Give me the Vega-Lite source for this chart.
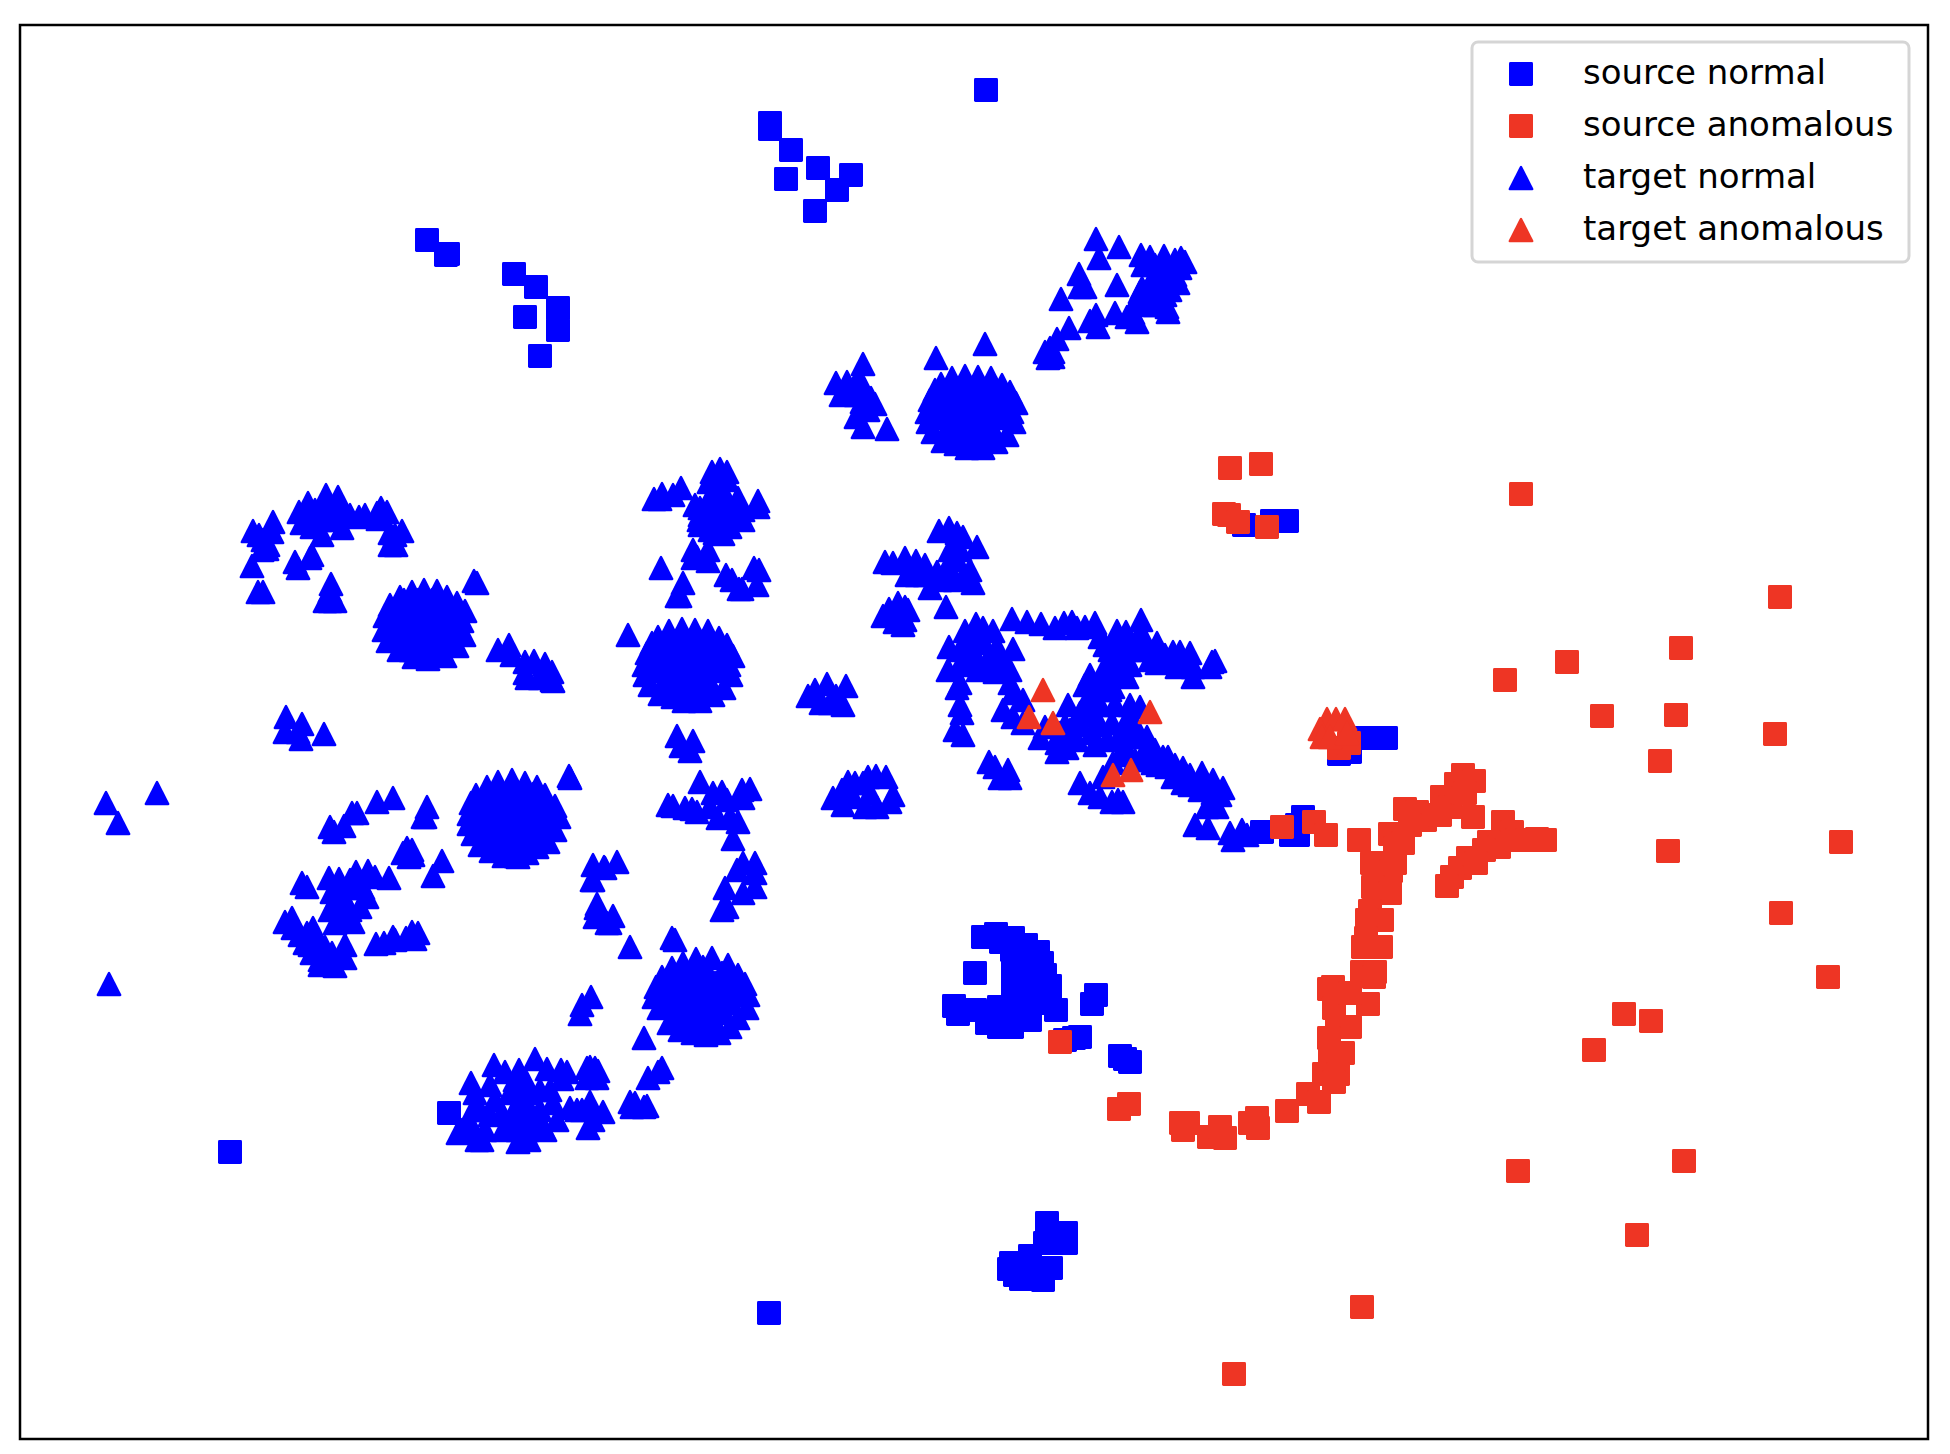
{"$schema":"https://vega.github.io/schema/vega-lite/v6.json","width":1908,"height":1414,"autosize":{"type":"none"},"padding":{"left":20,"top":25,"right":22,"bottom":15},"background":"white",
"config":{"view":{"stroke":"black","strokeWidth":2.5},"font":"DejaVu Sans","legend":{"strokeWidth":3}},
"data":{"values":[
{"x":986,"y":90,"s":"SN"},{"x":770,"y":123,"s":"SN"},{"x":770,"y":129,"s":"SN"},{"x":791,"y":150,"s":"SN"},{"x":818,"y":168,"s":"SN"},{"x":851,"y":175,"s":"SN"},{"x":786,"y":179,"s":"SN"},{"x":837,"y":190,"s":"SN"},{"x":815,"y":211,"s":"SN"},{"x":427,"y":240,"s":"SN"},{"x":448,"y":254,"s":"SN"},{"x":446,"y":255,"s":"SN"},{"x":514,"y":274,"s":"SN"},{"x":536,"y":287,"s":"SN"},{"x":558,"y":308,"s":"SN"},{"x":525,"y":317,"s":"SN"},{"x":558,"y":330,"s":"SN"},{"x":540,"y":356,"s":"SN"},
{"x":1244,"y":525,"s":"SN"},{"x":1272,"y":521,"s":"SN"},{"x":1284,"y":521,"s":"SN"},{"x":1287,"y":521,"s":"SN"},
{"x":1386,"y":738,"s":"SN"},{"x":1370,"y":738,"s":"SN"},{"x":1360,"y":738,"s":"SN"},{"x":1339,"y":754,"s":"SN"},{"x":1350,"y":752,"s":"SN"},
{"x":1262,"y":832,"s":"SN"},{"x":1303,"y":817,"s":"SN"},{"x":1297,"y":825,"s":"SN"},{"x":1291,"y":835,"s":"SN"},{"x":1298,"y":835,"s":"SN"},
{"x":983,"y":937,"s":"SN"},{"x":996,"y":934,"s":"SN"},{"x":1013,"y":938,"s":"SN"},{"x":1026,"y":945,"s":"SN"},{"x":1038,"y":952,"s":"SN"},{"x":1042,"y":963,"s":"SN"},{"x":1045,"y":975,"s":"SN"},{"x":1050,"y":986,"s":"SN"},{"x":1056,"y":1010,"s":"SN"},{"x":1050,"y":1000,"s":"SN"},{"x":1030,"y":1020,"s":"SN"},{"x":1012,"y":1027,"s":"SN"},{"x":999,"y":1027,"s":"SN"},{"x":987,"y":1023,"s":"SN"},{"x":958,"y":1014,"s":"SN"},{"x":954,"y":1006,"s":"SN"},{"x":975,"y":1010,"s":"SN"},{"x":999,"y":1007,"s":"SN"},{"x":1013,"y":960,"s":"SN"},{"x":1027,"y":960,"s":"SN"},{"x":1013,"y":977,"s":"SN"},{"x":1030,"y":977,"s":"SN"},{"x":1013,"y":993,"s":"SN"},{"x":1030,"y":993,"s":"SN"},{"x":1040,"y":1003,"s":"SN"},{"x":1013,"y":1010,"s":"SN"},{"x":1030,"y":1010,"s":"SN"},{"x":1001,"y":942,"s":"SN"},{"x":1012,"y":950,"s":"SN"},{"x":975,"y":973,"s":"SN"},
{"x":1096,"y":995,"s":"SN"},{"x":1092,"y":1004,"s":"SN"},{"x":1080,"y":1037,"s":"SN"},{"x":1074,"y":1038,"s":"SN"},{"x":1065,"y":1040,"s":"SN"},{"x":1120,"y":1056,"s":"SN"},{"x":1130,"y":1062,"s":"SN"},{"x":1125,"y":1059,"s":"SN"},
{"x":1047,"y":1223,"s":"SN"},{"x":1066,"y":1233,"s":"SN"},{"x":1066,"y":1243,"s":"SN"},{"x":1045,"y":1243,"s":"SN"},{"x":1030,"y":1256,"s":"SN"},{"x":1011,"y":1263,"s":"SN"},{"x":1009,"y":1269,"s":"SN"},{"x":1021,"y":1279,"s":"SN"},{"x":1043,"y":1280,"s":"SN"},{"x":1051,"y":1268,"s":"SN"},{"x":1030,"y":1273,"s":"SN"},{"x":1015,"y":1275,"s":"SN"},
{"x":449,"y":1113,"s":"SN"},{"x":230,"y":1152,"s":"SN"},{"x":769,"y":1313,"s":"SN"},
{"x":1230,"y":468,"s":"SA"},{"x":1261,"y":464,"s":"SA"},{"x":1224,"y":514,"s":"SA"},{"x":1229,"y":515,"s":"SA"},{"x":1238,"y":522,"s":"SA"},{"x":1267,"y":527,"s":"SA"},{"x":1521,"y":494,"s":"SA"},{"x":1780,"y":597,"s":"SA"},{"x":1681,"y":648,"s":"SA"},{"x":1567,"y":662,"s":"SA"},{"x":1505,"y":680,"s":"SA"},{"x":1602,"y":716,"s":"SA"},{"x":1676,"y":715,"s":"SA"},{"x":1775,"y":734,"s":"SA"},{"x":1660,"y":761,"s":"SA"},{"x":1668,"y":851,"s":"SA"},{"x":1841,"y":842,"s":"SA"},{"x":1781,"y":913,"s":"SA"},{"x":1828,"y":977,"s":"SA"},{"x":1624,"y":1014,"s":"SA"},{"x":1651,"y":1021,"s":"SA"},{"x":1594,"y":1050,"s":"SA"},{"x":1684,"y":1161,"s":"SA"},{"x":1518,"y":1171,"s":"SA"},{"x":1637,"y":1235,"s":"SA"},{"x":1362,"y":1307,"s":"SA"},{"x":1234,"y":1374,"s":"SA"},
{"x":1282,"y":827,"s":"SA"},{"x":1314,"y":822,"s":"SA"},{"x":1326,"y":835,"s":"SA"},{"x":1359,"y":840,"s":"SA"},{"x":1390,"y":834,"s":"SA"},{"x":1405,"y":809,"s":"SA"},{"x":1425,"y":820,"s":"SA"},{"x":1417,"y":812,"s":"SA"},{"x":1442,"y":797,"s":"SA"},{"x":1450,"y":807,"s":"SA"},{"x":1456,"y":784,"s":"SA"},{"x":1463,"y":775,"s":"SA"},{"x":1474,"y":781,"s":"SA"},{"x":1465,"y":793,"s":"SA"},{"x":1473,"y":817,"s":"SA"},{"x":1503,"y":822,"s":"SA"},{"x":1512,"y":832,"s":"SA"},{"x":1489,"y":842,"s":"SA"},{"x":1499,"y":847,"s":"SA"},{"x":1517,"y":840,"s":"SA"},{"x":1527,"y":840,"s":"SA"},{"x":1545,"y":840,"s":"SA"},{"x":1537,"y":839,"s":"SA"},{"x":1484,"y":850,"s":"SA"},{"x":1468,"y":858,"s":"SA"},{"x":1460,"y":868,"s":"SA"},{"x":1452,"y":877,"s":"SA"},{"x":1447,"y":886,"s":"SA"},{"x":1476,"y":863,"s":"SA"},{"x":1440,"y":815,"s":"SA"},{"x":1410,"y":825,"s":"SA"},{"x":1395,"y":848,"s":"SA"},
{"x":1403,"y":843,"s":"SA"},{"x":1395,"y":863,"s":"SA"},{"x":1372,"y":863,"s":"SA"},{"x":1391,"y":871,"s":"SA"},{"x":1373,"y":887,"s":"SA"},{"x":1390,"y":893,"s":"SA"},{"x":1370,"y":911,"s":"SA"},{"x":1382,"y":920,"s":"SA"},{"x":1367,"y":920,"s":"SA"},{"x":1366,"y":938,"s":"SA"},{"x":1381,"y":947,"s":"SA"},{"x":1363,"y":947,"s":"SA"},{"x":1362,"y":972,"s":"SA"},{"x":1375,"y":972,"s":"SA"},{"x":1374,"y":977,"s":"SA"},{"x":1368,"y":1004,"s":"SA"},{"x":1329,"y":989,"s":"SA"},{"x":1333,"y":987,"s":"SA"},{"x":1334,"y":1008,"s":"SA"},{"x":1350,"y":993,"s":"SA"},{"x":1350,"y":1027,"s":"SA"},{"x":1337,"y":1027,"s":"SA"},{"x":1329,"y":1038,"s":"SA"},{"x":1343,"y":1053,"s":"SA"},{"x":1330,"y":1053,"s":"SA"},{"x":1324,"y":1074,"s":"SA"},{"x":1338,"y":1074,"s":"SA"},{"x":1334,"y":1082,"s":"SA"},{"x":1308,"y":1094,"s":"SA"},{"x":1319,"y":1102,"s":"SA"},{"x":1287,"y":1111,"s":"SA"},{"x":1257,"y":1118,"s":"SA"},{"x":1258,"y":1128,"s":"SA"},{"x":1250,"y":1123,"s":"SA"},{"x":1225,"y":1138,"s":"SA"},{"x":1209,"y":1137,"s":"SA"},{"x":1220,"y":1127,"s":"SA"},{"x":1183,"y":1130,"s":"SA"},{"x":1181,"y":1123,"s":"SA"},{"x":1188,"y":1123,"s":"SA"},
{"x":1060,"y":1042,"s":"SA"},{"x":1129,"y":1104,"s":"SA"},{"x":1119,"y":1109,"s":"SA"},{"x":1339,"y":748,"s":"SA"},{"x":1349,"y":743,"s":"SA"},
{"x":939,"y":531,"s":"TN"},{"x":949,"y":528,"s":"TN"},{"x":957,"y":533,"s":"TN"},{"x":963,"y":537,"s":"TN"},{"x":977,"y":547,"s":"TN"},{"x":905,"y":558,"s":"TN"},{"x":916,"y":561,"s":"TN"},{"x":925,"y":565,"s":"TN"},{"x":947,"y":567,"s":"TN"},{"x":957,"y":560,"s":"TN"},{"x":970,"y":570,"s":"TN"},{"x":937,"y":572,"s":"TN"},{"x":930,"y":588,"s":"TN"},{"x":947,"y":572,"s":"TN"},{"x":963,"y":577,"s":"TN"},{"x":973,"y":583,"s":"TN"},{"x":946,"y":607,"s":"TN"},{"x":940,"y":580,"s":"TN"},{"x":917,"y":575,"s":"TN"},{"x":907,"y":575,"s":"TN"},{"x":905,"y":607,"s":"TN"},{"x":908,"y":610,"s":"TN"},{"x":903,"y":625,"s":"TN"},{"x":905,"y":620,"s":"TN"},
{"x":1012,"y":619,"s":"TN"},{"x":1027,"y":622,"s":"TN"},{"x":1041,"y":624,"s":"TN"},{"x":1055,"y":628,"s":"TN"},{"x":1064,"y":623,"s":"TN"},{"x":1072,"y":622,"s":"TN"},{"x":1085,"y":627,"s":"TN"},{"x":1095,"y":623,"s":"TN"},{"x":1077,"y":628,"s":"TN"},{"x":1117,"y":631,"s":"TN"},{"x":1126,"y":632,"s":"TN"},{"x":1141,"y":620,"s":"TN"},{"x":1100,"y":637,"s":"TN"},{"x":1140,"y":633,"s":"TN"},{"x":1157,"y":643,"s":"TN"},{"x":1173,"y":652,"s":"TN"},{"x":1180,"y":652,"s":"TN"},{"x":1190,"y":653,"s":"TN"},{"x":1177,"y":667,"s":"TN"},{"x":1193,"y":677,"s":"TN"},{"x":1187,"y":663,"s":"TN"},{"x":1212,"y":662,"s":"TN"},{"x":1215,"y":661,"s":"TN"},{"x":1210,"y":667,"s":"TN"},{"x":1193,"y":667,"s":"TN"},{"x":1157,"y":663,"s":"TN"},{"x":1117,"y":643,"s":"TN"},{"x":1133,"y":647,"s":"TN"},{"x":1110,"y":650,"s":"TN"},{"x":1127,"y":660,"s":"TN"},{"x":1107,"y":663,"s":"TN"},{"x":1147,"y":650,"s":"TN"},
{"x":965,"y":631,"s":"TN"},{"x":976,"y":624,"s":"TN"},{"x":983,"y":628,"s":"TN"},{"x":993,"y":631,"s":"TN"},{"x":949,"y":647,"s":"TN"},{"x":948,"y":670,"s":"TN"},{"x":967,"y":643,"s":"TN"},{"x":983,"y":643,"s":"TN"},{"x":997,"y":647,"s":"TN"},{"x":1013,"y":649,"s":"TN"},{"x":970,"y":663,"s":"TN"},{"x":987,"y":663,"s":"TN"},{"x":1003,"y":663,"s":"TN"},{"x":1010,"y":670,"s":"TN"},{"x":1010,"y":683,"s":"TN"},{"x":960,"y":683,"s":"TN"},{"x":957,"y":688,"s":"TN"},{"x":960,"y":705,"s":"TN"},{"x":962,"y":713,"s":"TN"},{"x":955,"y":730,"s":"TN"},{"x":963,"y":735,"s":"TN"},{"x":1003,"y":710,"s":"TN"},{"x":1013,"y":717,"s":"TN"},{"x":1023,"y":723,"s":"TN"},{"x":1013,"y":693,"s":"TN"},{"x":1023,"y":700,"s":"TN"},
{"x":1090,"y":675,"s":"TN"},{"x":1100,"y":690,"s":"TN"},{"x":1113,"y":687,"s":"TN"},{"x":1107,"y":673,"s":"TN"},{"x":1123,"y":670,"s":"TN"},{"x":1127,"y":677,"s":"TN"},{"x":1068,"y":705,"s":"TN"},{"x":1080,"y":713,"s":"TN"},{"x":1087,"y":700,"s":"TN"},{"x":1130,"y":705,"s":"TN"},{"x":1140,"y":707,"s":"TN"},{"x":1100,"y":725,"s":"TN"},{"x":1112,"y":723,"s":"TN"},{"x":1092,"y":733,"s":"TN"},{"x":1107,"y":740,"s":"TN"},{"x":1070,"y":730,"s":"TN"},{"x":1077,"y":740,"s":"TN"},{"x":1045,"y":727,"s":"TN"},{"x":1040,"y":738,"s":"TN"},{"x":1057,"y":743,"s":"TN"},{"x":1067,"y":748,"s":"TN"},{"x":1057,"y":752,"s":"TN"},{"x":1060,"y":733,"s":"TN"},{"x":1133,"y":737,"s":"TN"},{"x":1147,"y":737,"s":"TN"},{"x":1127,"y":750,"s":"TN"},{"x":1145,"y":755,"s":"TN"},{"x":1113,"y":763,"s":"TN"},{"x":1163,"y":757,"s":"TN"},
{"x":1158,"y":765,"s":"TN"},{"x":1168,"y":757,"s":"TN"},{"x":1183,"y":768,"s":"TN"},{"x":1173,"y":777,"s":"TN"},{"x":1183,"y":783,"s":"TN"},{"x":1202,"y":773,"s":"TN"},{"x":1213,"y":780,"s":"TN"},{"x":1223,"y":788,"s":"TN"},{"x":1200,"y":790,"s":"TN"},{"x":1213,"y":793,"s":"TN"},{"x":1207,"y":807,"s":"TN"},{"x":1217,"y":807,"s":"TN"},{"x":1195,"y":825,"s":"TN"},{"x":1208,"y":828,"s":"TN"},{"x":1230,"y":833,"s":"TN"},{"x":1242,"y":830,"s":"TN"},{"x":1233,"y":840,"s":"TN"},{"x":1247,"y":835,"s":"TN"},{"x":1153,"y":763,"s":"TN"},{"x":1167,"y":767,"s":"TN"},{"x":1140,"y":760,"s":"TN"},
{"x":989,"y":762,"s":"TN"},{"x":995,"y":767,"s":"TN"},{"x":1008,"y":770,"s":"TN"},{"x":1000,"y":778,"s":"TN"},{"x":1010,"y":778,"s":"TN"},{"x":1080,"y":783,"s":"TN"},{"x":1090,"y":793,"s":"TN"},{"x":1100,"y":797,"s":"TN"},{"x":1112,"y":802,"s":"TN"},{"x":1118,"y":800,"s":"TN"},{"x":1123,"y":802,"s":"TN"},{"x":1103,"y":777,"s":"TN"},
{"x":833,"y":798,"s":"TN"},{"x":842,"y":790,"s":"TN"},{"x":848,"y":782,"s":"TN"},{"x":855,"y":783,"s":"TN"},{"x":863,"y":783,"s":"TN"},{"x":868,"y":777,"s":"TN"},{"x":876,"y":776,"s":"TN"},{"x":886,"y":777,"s":"TN"},{"x":843,"y":805,"s":"TN"},{"x":865,"y":807,"s":"TN"},{"x":877,"y":807,"s":"TN"},{"x":890,"y":802,"s":"TN"},{"x":853,"y":797,"s":"TN"},{"x":870,"y":793,"s":"TN"},{"x":893,"y":795,"s":"TN"},
{"x":700,"y":782,"s":"TN"},{"x":668,"y":805,"s":"TN"},{"x":673,"y":806,"s":"TN"},{"x":685,"y":808,"s":"TN"},{"x":692,"y":809,"s":"TN"},{"x":713,"y":793,"s":"TN"},{"x":722,"y":792,"s":"TN"},{"x":742,"y":790,"s":"TN"},{"x":750,"y":789,"s":"TN"},{"x":727,"y":800,"s":"TN"},{"x":710,"y":807,"s":"TN"},{"x":730,"y":817,"s":"TN"},{"x":738,"y":822,"s":"TN"},{"x":718,"y":818,"s":"TN"},{"x":697,"y":812,"s":"TN"},{"x":743,"y":798,"s":"TN"},{"x":733,"y":839,"s":"TN"},{"x":743,"y":863,"s":"TN"},{"x":755,"y":863,"s":"TN"},{"x":737,"y":870,"s":"TN"},{"x":755,"y":873,"s":"TN"},{"x":755,"y":887,"s":"TN"},{"x":725,"y":888,"s":"TN"},{"x":743,"y":893,"s":"TN"},{"x":722,"y":910,"s":"TN"},{"x":727,"y":907,"s":"TN"},{"x":672,"y":938,"s":"TN"},{"x":675,"y":940,"s":"TN"},{"x":630,"y":947,"s":"TN"},{"x":644,"y":1038,"s":"TN"},
{"x":662,"y":977,"s":"TN"},{"x":672,"y":968,"s":"TN"},{"x":683,"y":963,"s":"TN"},{"x":696,"y":959,"s":"TN"},{"x":703,"y":967,"s":"TN"},{"x":712,"y":958,"s":"TN"},{"x":728,"y":965,"s":"TN"},{"x":738,"y":975,"s":"TN"},{"x":745,"y":984,"s":"TN"},{"x":748,"y":995,"s":"TN"},{"x":747,"y":1008,"s":"TN"},{"x":738,"y":1018,"s":"TN"},{"x":730,"y":1027,"s":"TN"},{"x":719,"y":1033,"s":"TN"},{"x":706,"y":1035,"s":"TN"},{"x":693,"y":1033,"s":"TN"},{"x":680,"y":1030,"s":"TN"},{"x":669,"y":1023,"s":"TN"},{"x":659,"y":1008,"s":"TN"},{"x":654,"y":997,"s":"TN"},{"x":656,"y":987,"s":"TN"},{"x":680,"y":985,"s":"TN"},{"x":700,"y":985,"s":"TN"},{"x":720,"y":985,"s":"TN"},{"x":680,"y":1005,"s":"TN"},{"x":700,"y":1005,"s":"TN"},{"x":720,"y":1005,"s":"TN"},{"x":670,"y":995,"s":"TN"},{"x":730,"y":1000,"s":"TN"},
{"x":680,"y":973,"s":"TN"},{"x":694,"y":973,"s":"TN"},{"x":708,"y":973,"s":"TN"},{"x":722,"y":973,"s":"TN"},{"x":673,"y":983,"s":"TN"},{"x":687,"y":983,"s":"TN"},{"x":701,"y":983,"s":"TN"},{"x":715,"y":983,"s":"TN"},{"x":729,"y":983,"s":"TN"},{"x":666,"y":993,"s":"TN"},{"x":680,"y":993,"s":"TN"},{"x":694,"y":993,"s":"TN"},{"x":708,"y":993,"s":"TN"},{"x":722,"y":993,"s":"TN"},{"x":736,"y":993,"s":"TN"},{"x":673,"y":1003,"s":"TN"},{"x":687,"y":1003,"s":"TN"},{"x":701,"y":1003,"s":"TN"},{"x":715,"y":1003,"s":"TN"},{"x":729,"y":1003,"s":"TN"},{"x":680,"y":1013,"s":"TN"},{"x":694,"y":1013,"s":"TN"},{"x":708,"y":1013,"s":"TN"},{"x":722,"y":1013,"s":"TN"},{"x":687,"y":1023,"s":"TN"},{"x":701,"y":1023,"s":"TN"},{"x":715,"y":1023,"s":"TN"},
{"x":390,"y":605,"s":"TN"},{"x":400,"y":597,"s":"TN"},{"x":412,"y":592,"s":"TN"},{"x":424,"y":590,"s":"TN"},{"x":437,"y":591,"s":"TN"},{"x":447,"y":597,"s":"TN"},{"x":457,"y":603,"s":"TN"},{"x":465,"y":611,"s":"TN"},{"x":462,"y":621,"s":"TN"},{"x":464,"y":635,"s":"TN"},{"x":457,"y":646,"s":"TN"},{"x":445,"y":656,"s":"TN"},{"x":428,"y":659,"s":"TN"},{"x":414,"y":657,"s":"TN"},{"x":399,"y":650,"s":"TN"},{"x":388,"y":641,"s":"TN"},{"x":384,"y":630,"s":"TN"},{"x":385,"y":616,"s":"TN"},{"x":410,"y":610,"s":"TN"},{"x":425,"y":610,"s":"TN"},{"x":440,"y":610,"s":"TN"},{"x":400,"y":625,"s":"TN"},{"x":420,"y":625,"s":"TN"},{"x":440,"y":625,"s":"TN"},{"x":455,"y":625,"s":"TN"},{"x":400,"y":640,"s":"TN"},{"x":420,"y":640,"s":"TN"},{"x":440,"y":640,"s":"TN"},{"x":415,"y":650,"s":"TN"},{"x":435,"y":650,"s":"TN"},
{"x":404,"y":600,"s":"TN"},{"x":418,"y":600,"s":"TN"},{"x":432,"y":600,"s":"TN"},{"x":446,"y":600,"s":"TN"},{"x":397,"y":610,"s":"TN"},{"x":411,"y":610,"s":"TN"},{"x":425,"y":610,"s":"TN"},{"x":439,"y":610,"s":"TN"},{"x":453,"y":610,"s":"TN"},{"x":390,"y":620,"s":"TN"},{"x":404,"y":620,"s":"TN"},{"x":418,"y":620,"s":"TN"},{"x":432,"y":620,"s":"TN"},{"x":446,"y":620,"s":"TN"},{"x":460,"y":620,"s":"TN"},{"x":397,"y":630,"s":"TN"},{"x":411,"y":630,"s":"TN"},{"x":425,"y":630,"s":"TN"},{"x":439,"y":630,"s":"TN"},{"x":453,"y":630,"s":"TN"},{"x":404,"y":640,"s":"TN"},{"x":418,"y":640,"s":"TN"},{"x":432,"y":640,"s":"TN"},{"x":446,"y":640,"s":"TN"},{"x":411,"y":650,"s":"TN"},{"x":425,"y":650,"s":"TN"},{"x":439,"y":650,"s":"TN"},
{"x":474,"y":581,"s":"TN"},{"x":477,"y":583,"s":"TN"},{"x":498,"y":650,"s":"TN"},{"x":509,"y":645,"s":"TN"},{"x":512,"y":655,"s":"TN"},{"x":525,"y":662,"s":"TN"},{"x":534,"y":661,"s":"TN"},{"x":545,"y":664,"s":"TN"},{"x":525,"y":673,"s":"TN"},{"x":527,"y":678,"s":"TN"},{"x":540,"y":678,"s":"TN"},{"x":552,"y":672,"s":"TN"},{"x":552,"y":680,"s":"TN"},{"x":553,"y":681,"s":"TN"},{"x":542,"y":673,"s":"TN"},
{"x":253,"y":531,"s":"TN"},{"x":259,"y":535,"s":"TN"},{"x":273,"y":522,"s":"TN"},{"x":272,"y":532,"s":"TN"},{"x":263,"y":540,"s":"TN"},{"x":268,"y":545,"s":"TN"},{"x":262,"y":550,"s":"TN"},{"x":267,"y":549,"s":"TN"},{"x":252,"y":566,"s":"TN"},{"x":258,"y":592,"s":"TN"},{"x":263,"y":592,"s":"TN"},{"x":295,"y":562,"s":"TN"},{"x":298,"y":568,"s":"TN"},{"x":312,"y":555,"s":"TN"},{"x":310,"y":558,"s":"TN"},{"x":331,"y":584,"s":"TN"},{"x":330,"y":591,"s":"TN"},{"x":330,"y":601,"s":"TN"},{"x":325,"y":601,"s":"TN"},{"x":335,"y":601,"s":"TN"},
{"x":299,"y":512,"s":"TN"},{"x":308,"y":503,"s":"TN"},{"x":302,"y":523,"s":"TN"},{"x":312,"y":527,"s":"TN"},{"x":326,"y":495,"s":"TN"},{"x":338,"y":497,"s":"TN"},{"x":323,"y":503,"s":"TN"},{"x":330,"y":513,"s":"TN"},{"x":342,"y":508,"s":"TN"},{"x":322,"y":535,"s":"TN"},{"x":342,"y":528,"s":"TN"},{"x":359,"y":517,"s":"TN"},{"x":377,"y":513,"s":"TN"},{"x":381,"y":508,"s":"TN"},{"x":387,"y":512,"s":"TN"},{"x":378,"y":519,"s":"TN"},{"x":402,"y":531,"s":"TN"},{"x":390,"y":533,"s":"TN"},{"x":395,"y":535,"s":"TN"},{"x":390,"y":545,"s":"TN"},{"x":396,"y":545,"s":"TN"},{"x":315,"y":510,"s":"TN"},{"x":335,"y":520,"s":"TN"},{"x":320,"y":520,"s":"TN"},{"x":350,"y":515,"s":"TN"},{"x":365,"y":515,"s":"TN"},
{"x":286,"y":717,"s":"TN"},{"x":302,"y":724,"s":"TN"},{"x":285,"y":732,"s":"TN"},{"x":301,"y":739,"s":"TN"},{"x":298,"y":732,"s":"TN"},{"x":324,"y":734,"s":"TN"},
{"x":330,"y":827,"s":"TN"},{"x":334,"y":832,"s":"TN"},{"x":344,"y":826,"s":"TN"},{"x":352,"y":813,"s":"TN"},{"x":357,"y":813,"s":"TN"},{"x":377,"y":802,"s":"TN"},{"x":393,"y":798,"s":"TN"},{"x":427,"y":807,"s":"TN"},{"x":423,"y":817,"s":"TN"},{"x":425,"y":817,"s":"TN"},{"x":569,"y":776,"s":"TN"},{"x":570,"y":778,"s":"TN"},
{"x":476,"y":795,"s":"TN"},{"x":487,"y":787,"s":"TN"},{"x":498,"y":782,"s":"TN"},{"x":512,"y":780,"s":"TN"},{"x":525,"y":783,"s":"TN"},{"x":537,"y":787,"s":"TN"},{"x":545,"y":795,"s":"TN"},{"x":555,"y":806,"s":"TN"},{"x":559,"y":817,"s":"TN"},{"x":555,"y":830,"s":"TN"},{"x":548,"y":842,"s":"TN"},{"x":537,"y":847,"s":"TN"},{"x":527,"y":853,"s":"TN"},{"x":516,"y":856,"s":"TN"},{"x":518,"y":857,"s":"TN"},{"x":504,"y":856,"s":"TN"},{"x":491,"y":851,"s":"TN"},{"x":480,"y":845,"s":"TN"},{"x":473,"y":834,"s":"TN"},{"x":469,"y":824,"s":"TN"},{"x":469,"y":814,"s":"TN"},{"x":471,"y":803,"s":"TN"},{"x":490,"y":800,"s":"TN"},{"x":510,"y":800,"s":"TN"},{"x":530,"y":800,"s":"TN"},{"x":480,"y":815,"s":"TN"},{"x":500,"y":815,"s":"TN"},{"x":520,"y":815,"s":"TN"},{"x":540,"y":815,"s":"TN"},{"x":480,"y":830,"s":"TN"},{"x":500,"y":830,"s":"TN"},{"x":520,"y":830,"s":"TN"},{"x":540,"y":830,"s":"TN"},{"x":495,"y":845,"s":"TN"},{"x":515,"y":845,"s":"TN"},{"x":530,"y":840,"s":"TN"},
{"x":491,"y":794,"s":"TN"},{"x":505,"y":794,"s":"TN"},{"x":519,"y":794,"s":"TN"},{"x":533,"y":794,"s":"TN"},{"x":484,"y":804,"s":"TN"},{"x":498,"y":804,"s":"TN"},{"x":512,"y":804,"s":"TN"},{"x":526,"y":804,"s":"TN"},{"x":540,"y":804,"s":"TN"},{"x":477,"y":814,"s":"TN"},{"x":491,"y":814,"s":"TN"},{"x":505,"y":814,"s":"TN"},{"x":519,"y":814,"s":"TN"},{"x":533,"y":814,"s":"TN"},{"x":547,"y":814,"s":"TN"},{"x":484,"y":824,"s":"TN"},{"x":498,"y":824,"s":"TN"},{"x":512,"y":824,"s":"TN"},{"x":526,"y":824,"s":"TN"},{"x":540,"y":824,"s":"TN"},{"x":491,"y":834,"s":"TN"},{"x":505,"y":834,"s":"TN"},{"x":519,"y":834,"s":"TN"},{"x":533,"y":834,"s":"TN"},{"x":498,"y":844,"s":"TN"},{"x":512,"y":844,"s":"TN"},{"x":526,"y":844,"s":"TN"},
{"x":407,"y":848,"s":"TN"},{"x":412,"y":850,"s":"TN"},{"x":409,"y":857,"s":"TN"},{"x":403,"y":853,"s":"TN"},{"x":413,"y":855,"s":"TN"},{"x":442,"y":861,"s":"TN"},{"x":433,"y":876,"s":"TN"},{"x":302,"y":883,"s":"TN"},{"x":307,"y":887,"s":"TN"},{"x":329,"y":878,"s":"TN"},{"x":339,"y":879,"s":"TN"},{"x":356,"y":872,"s":"TN"},{"x":368,"y":871,"s":"TN"},{"x":375,"y":877,"s":"TN"},{"x":389,"y":878,"s":"TN"},{"x":360,"y":883,"s":"TN"},{"x":332,"y":892,"s":"TN"},{"x":337,"y":897,"s":"TN"},{"x":347,"y":888,"s":"TN"},{"x":363,"y":888,"s":"TN"},{"x":367,"y":897,"s":"TN"},{"x":335,"y":903,"s":"TN"},{"x":360,"y":907,"s":"TN"},{"x":343,"y":917,"s":"TN"},{"x":335,"y":923,"s":"TN"},{"x":353,"y":922,"s":"TN"},{"x":350,"y":880,"s":"TN"},{"x":345,"y":900,"s":"TN"},{"x":350,"y":910,"s":"TN"},{"x":330,"y":910,"s":"TN"},
{"x":285,"y":922,"s":"TN"},{"x":292,"y":918,"s":"TN"},{"x":293,"y":928,"s":"TN"},{"x":307,"y":933,"s":"TN"},{"x":313,"y":928,"s":"TN"},{"x":305,"y":943,"s":"TN"},{"x":317,"y":940,"s":"TN"},{"x":312,"y":953,"s":"TN"},{"x":320,"y":960,"s":"TN"},{"x":320,"y":965,"s":"TN"},{"x":335,"y":966,"s":"TN"},{"x":345,"y":945,"s":"TN"},{"x":345,"y":958,"s":"TN"},{"x":332,"y":953,"s":"TN"},{"x":325,"y":947,"s":"TN"},{"x":376,"y":944,"s":"TN"},{"x":384,"y":943,"s":"TN"},{"x":393,"y":937,"s":"TN"},{"x":395,"y":940,"s":"TN"},{"x":406,"y":938,"s":"TN"},{"x":412,"y":932,"s":"TN"},{"x":418,"y":933,"s":"TN"},{"x":415,"y":939,"s":"TN"},{"x":320,"y":950,"s":"TN"},{"x":330,"y":960,"s":"TN"},{"x":310,"y":945,"s":"TN"},{"x":300,"y":935,"s":"TN"},
{"x":593,"y":865,"s":"TN"},{"x":604,"y":867,"s":"TN"},{"x":617,"y":862,"s":"TN"},{"x":605,"y":868,"s":"TN"},{"x":592,"y":880,"s":"TN"},{"x":593,"y":880,"s":"TN"},{"x":597,"y":904,"s":"TN"},{"x":596,"y":908,"s":"TN"},{"x":595,"y":917,"s":"TN"},{"x":613,"y":916,"s":"TN"},{"x":610,"y":923,"s":"TN"},{"x":607,"y":923,"s":"TN"},
{"x":471,"y":1083,"s":"TN"},{"x":494,"y":1065,"s":"TN"},{"x":505,"y":1072,"s":"TN"},{"x":519,"y":1070,"s":"TN"},{"x":535,"y":1059,"s":"TN"},{"x":547,"y":1069,"s":"TN"},{"x":561,"y":1070,"s":"TN"},{"x":567,"y":1072,"s":"TN"},{"x":562,"y":1079,"s":"TN"},{"x":590,"y":1067,"s":"TN"},{"x":595,"y":1068,"s":"TN"},{"x":598,"y":1071,"s":"TN"},{"x":587,"y":1068,"s":"TN"},{"x":597,"y":1078,"s":"TN"},{"x":587,"y":1078,"s":"TN"},{"x":475,"y":1093,"s":"TN"},{"x":473,"y":1110,"s":"TN"},{"x":470,"y":1123,"s":"TN"},{"x":462,"y":1130,"s":"TN"},{"x":458,"y":1133,"s":"TN"},{"x":473,"y":1130,"s":"TN"},{"x":477,"y":1140,"s":"TN"},{"x":482,"y":1140,"s":"TN"},{"x":517,"y":1090,"s":"TN"},{"x":527,"y":1083,"s":"TN"},{"x":530,"y":1093,"s":"TN"},{"x":510,"y":1093,"s":"TN"},{"x":518,"y":1103,"s":"TN"},{"x":502,"y":1113,"s":"TN"},{"x":530,"y":1110,"s":"TN"},{"x":512,"y":1120,"s":"TN"},{"x":527,"y":1130,"s":"TN"},{"x":503,"y":1130,"s":"TN"},{"x":518,"y":1130,"s":"TN"},{"x":518,"y":1142,"s":"TN"},{"x":529,"y":1140,"s":"TN"},{"x":543,"y":1127,"s":"TN"},{"x":545,"y":1130,"s":"TN"},{"x":553,"y":1103,"s":"TN"},{"x":557,"y":1120,"s":"TN"},{"x":570,"y":1108,"s":"TN"},{"x":533,"y":1120,"s":"TN"},{"x":590,"y":1102,"s":"TN"},{"x":603,"y":1112,"s":"TN"},{"x":582,"y":1110,"s":"TN"},{"x":593,"y":1120,"s":"TN"},{"x":588,"y":1128,"s":"TN"},{"x":577,"y":1110,"s":"TN"},{"x":630,"y":1102,"s":"TN"},{"x":635,"y":1103,"s":"TN"},{"x":632,"y":1107,"s":"TN"},{"x":647,"y":1106,"s":"TN"},{"x":648,"y":1078,"s":"TN"},{"x":658,"y":1072,"s":"TN"},{"x":662,"y":1068,"s":"TN"},{"x":490,"y":1085,"s":"TN"},{"x":495,"y":1100,"s":"TN"},{"x":490,"y":1115,"s":"TN"},{"x":480,"y":1110,"s":"TN"},{"x":515,"y":1080,"s":"TN"},{"x":540,"y":1090,"s":"TN"},{"x":540,"y":1110,"s":"TN"},{"x":485,"y":1130,"s":"TN"},{"x":550,"y":1090,"s":"TN"},{"x":520,"y":1115,"s":"TN"},
{"x":654,"y":499,"s":"TN"},{"x":662,"y":494,"s":"TN"},{"x":673,"y":495,"s":"TN"},{"x":681,"y":488,"s":"TN"},{"x":660,"y":499,"s":"TN"},{"x":712,"y":472,"s":"TN"},{"x":720,"y":469,"s":"TN"},{"x":727,"y":472,"s":"TN"},{"x":709,"y":482,"s":"TN"},{"x":727,"y":480,"s":"TN"},{"x":717,"y":480,"s":"TN"},{"x":695,"y":505,"s":"TN"},{"x":707,"y":503,"s":"TN"},{"x":700,"y":508,"s":"TN"},{"x":738,"y":498,"s":"TN"},{"x":743,"y":510,"s":"TN"},{"x":758,"y":501,"s":"TN"},{"x":758,"y":507,"s":"TN"},{"x":699,"y":520,"s":"TN"},{"x":700,"y":525,"s":"TN"},{"x":727,"y":507,"s":"TN"},{"x":720,"y":520,"s":"TN"},{"x":730,"y":527,"s":"TN"},{"x":743,"y":520,"s":"TN"},{"x":723,"y":534,"s":"TN"},{"x":715,"y":533,"s":"TN"},{"x":693,"y":550,"s":"TN"},{"x":697,"y":557,"s":"TN"},{"x":708,"y":550,"s":"TN"},{"x":708,"y":561,"s":"TN"},{"x":693,"y":558,"s":"TN"},{"x":661,"y":568,"s":"TN"},{"x":683,"y":583,"s":"TN"},{"x":677,"y":596,"s":"TN"},{"x":680,"y":596,"s":"TN"},{"x":726,"y":575,"s":"TN"},{"x":732,"y":580,"s":"TN"},{"x":754,"y":568,"s":"TN"},{"x":759,"y":570,"s":"TN"},{"x":739,"y":589,"s":"TN"},{"x":757,"y":585,"s":"TN"},{"x":742,"y":589,"s":"TN"},{"x":712,"y":495,"s":"TN"},{"x":725,"y":495,"s":"TN"},{"x":705,"y":515,"s":"TN"},{"x":715,"y":510,"s":"TN"},{"x":735,"y":510,"s":"TN"},{"x":710,"y":530,"s":"TN"},{"x":725,"y":515,"s":"TN"},{"x":715,"y":495,"s":"TN"},{"x":700,"y":515,"s":"TN"},
{"x":677,"y":736,"s":"TN"},{"x":693,"y":741,"s":"TN"},{"x":681,"y":746,"s":"TN"},{"x":690,"y":751,"s":"TN"},
{"x":658,"y":637,"s":"TN"},{"x":669,"y":631,"s":"TN"},{"x":682,"y":629,"s":"TN"},{"x":695,"y":630,"s":"TN"},{"x":708,"y":631,"s":"TN"},{"x":719,"y":638,"s":"TN"},{"x":727,"y":645,"s":"TN"},{"x":733,"y":656,"s":"TN"},{"x":729,"y":665,"s":"TN"},{"x":731,"y":675,"s":"TN"},{"x":724,"y":688,"s":"TN"},{"x":713,"y":695,"s":"TN"},{"x":700,"y":701,"s":"TN"},{"x":684,"y":701,"s":"TN"},{"x":673,"y":697,"s":"TN"},{"x":660,"y":694,"s":"TN"},{"x":650,"y":685,"s":"TN"},{"x":645,"y":675,"s":"TN"},{"x":644,"y":665,"s":"TN"},{"x":647,"y":653,"s":"TN"},{"x":652,"y":643,"s":"TN"},{"x":665,"y":650,"s":"TN"},{"x":685,"y":650,"s":"TN"},{"x":705,"y":650,"s":"TN"},{"x":720,"y":655,"s":"TN"},{"x":660,"y":665,"s":"TN"},{"x":680,"y":665,"s":"TN"},{"x":700,"y":665,"s":"TN"},{"x":715,"y":670,"s":"TN"},{"x":665,"y":680,"s":"TN"},{"x":685,"y":680,"s":"TN"},{"x":705,"y":680,"s":"TN"},{"x":680,"y":690,"s":"TN"},{"x":695,"y":690,"s":"TN"},{"x":628,"y":635,"s":"TN"},
{"x":667,"y":641,"s":"TN"},{"x":681,"y":641,"s":"TN"},{"x":695,"y":641,"s":"TN"},{"x":709,"y":641,"s":"TN"},{"x":660,"y":651,"s":"TN"},{"x":674,"y":651,"s":"TN"},{"x":688,"y":651,"s":"TN"},{"x":702,"y":651,"s":"TN"},{"x":716,"y":651,"s":"TN"},{"x":653,"y":661,"s":"TN"},{"x":667,"y":661,"s":"TN"},{"x":681,"y":661,"s":"TN"},{"x":695,"y":661,"s":"TN"},{"x":709,"y":661,"s":"TN"},{"x":723,"y":661,"s":"TN"},{"x":660,"y":671,"s":"TN"},{"x":674,"y":671,"s":"TN"},{"x":688,"y":671,"s":"TN"},{"x":702,"y":671,"s":"TN"},{"x":716,"y":671,"s":"TN"},{"x":667,"y":681,"s":"TN"},{"x":681,"y":681,"s":"TN"},{"x":695,"y":681,"s":"TN"},{"x":709,"y":681,"s":"TN"},{"x":674,"y":691,"s":"TN"},{"x":688,"y":691,"s":"TN"},{"x":702,"y":691,"s":"TN"},
{"x":106,"y":803,"s":"TN"},{"x":157,"y":793,"s":"TN"},{"x":118,"y":823,"s":"TN"},{"x":109,"y":984,"s":"TN"},
{"x":815,"y":690,"s":"TN"},{"x":827,"y":684,"s":"TN"},{"x":846,"y":686,"s":"TN"},{"x":821,"y":703,"s":"TN"},{"x":836,"y":696,"s":"TN"},{"x":843,"y":705,"s":"TN"},{"x":808,"y":696,"s":"TN"},{"x":830,"y":703,"s":"TN"},
{"x":889,"y":609,"s":"TN"},{"x":898,"y":603,"s":"TN"},{"x":883,"y":616,"s":"TN"},{"x":895,"y":622,"s":"TN"},{"x":904,"y":619,"s":"TN"},{"x":885,"y":562,"s":"TN"},{"x":893,"y":563,"s":"TN"},
{"x":936,"y":358,"s":"TN"},{"x":985,"y":344,"s":"TN"},
{"x":941,"y":384,"s":"TN"},{"x":952,"y":378,"s":"TN"},{"x":965,"y":376,"s":"TN"},{"x":978,"y":377,"s":"TN"},{"x":991,"y":378,"s":"TN"},{"x":1002,"y":385,"s":"TN"},{"x":1010,"y":392,"s":"TN"},{"x":1016,"y":403,"s":"TN"},{"x":1012,"y":412,"s":"TN"},{"x":1014,"y":422,"s":"TN"},{"x":1007,"y":435,"s":"TN"},{"x":996,"y":442,"s":"TN"},{"x":983,"y":448,"s":"TN"},{"x":967,"y":448,"s":"TN"},{"x":956,"y":444,"s":"TN"},{"x":943,"y":441,"s":"TN"},{"x":933,"y":432,"s":"TN"},{"x":928,"y":422,"s":"TN"},{"x":927,"y":412,"s":"TN"},{"x":930,"y":400,"s":"TN"},{"x":935,"y":390,"s":"TN"},{"x":948,"y":397,"s":"TN"},{"x":968,"y":397,"s":"TN"},{"x":988,"y":397,"s":"TN"},{"x":1003,"y":402,"s":"TN"},{"x":943,"y":412,"s":"TN"},{"x":963,"y":412,"s":"TN"},{"x":983,"y":412,"s":"TN"},{"x":998,"y":417,"s":"TN"},{"x":948,"y":427,"s":"TN"},{"x":968,"y":427,"s":"TN"},{"x":988,"y":427,"s":"TN"},{"x":963,"y":437,"s":"TN"},{"x":978,"y":437,"s":"TN"},
{"x":950,"y":388,"s":"TN"},{"x":964,"y":388,"s":"TN"},{"x":978,"y":388,"s":"TN"},{"x":992,"y":388,"s":"TN"},{"x":943,"y":398,"s":"TN"},{"x":957,"y":398,"s":"TN"},{"x":971,"y":398,"s":"TN"},{"x":985,"y":398,"s":"TN"},{"x":999,"y":398,"s":"TN"},{"x":936,"y":408,"s":"TN"},{"x":950,"y":408,"s":"TN"},{"x":964,"y":408,"s":"TN"},{"x":978,"y":408,"s":"TN"},{"x":992,"y":408,"s":"TN"},{"x":1006,"y":408,"s":"TN"},{"x":943,"y":418,"s":"TN"},{"x":957,"y":418,"s":"TN"},{"x":971,"y":418,"s":"TN"},{"x":985,"y":418,"s":"TN"},{"x":999,"y":418,"s":"TN"},{"x":950,"y":428,"s":"TN"},{"x":964,"y":428,"s":"TN"},{"x":978,"y":428,"s":"TN"},{"x":992,"y":428,"s":"TN"},{"x":957,"y":438,"s":"TN"},{"x":971,"y":438,"s":"TN"},{"x":985,"y":438,"s":"TN"},
{"x":863,"y":364,"s":"TN"},{"x":836,"y":383,"s":"TN"},{"x":847,"y":382,"s":"TN"},{"x":858,"y":379,"s":"TN"},{"x":864,"y":388,"s":"TN"},{"x":871,"y":398,"s":"TN"},{"x":841,"y":395,"s":"TN"},{"x":856,"y":395,"s":"TN"},{"x":875,"y":404,"s":"TN"},{"x":856,"y":417,"s":"TN"},{"x":887,"y":429,"s":"TN"},{"x":863,"y":427,"s":"TN"},{"x":850,"y":390,"s":"TN"},{"x":862,"y":402,"s":"TN"},{"x":868,"y":410,"s":"TN"},
{"x":1096,"y":239,"s":"TN"},{"x":1119,"y":247,"s":"TN"},{"x":1099,"y":258,"s":"TN"},{"x":1079,"y":274,"s":"TN"},{"x":1080,"y":287,"s":"TN"},{"x":1085,"y":287,"s":"TN"},{"x":1117,"y":285,"s":"TN"},{"x":1061,"y":299,"s":"TN"},{"x":1069,"y":328,"s":"TN"},{"x":1096,"y":315,"s":"TN"},{"x":1090,"y":321,"s":"TN"},{"x":1098,"y":327,"s":"TN"},{"x":1115,"y":313,"s":"TN"},{"x":1127,"y":317,"s":"TN"},{"x":1137,"y":322,"s":"TN"},{"x":1133,"y":313,"s":"TN"},{"x":1057,"y":339,"s":"TN"},{"x":1050,"y":348,"s":"TN"},{"x":1045,"y":352,"s":"TN"},{"x":1053,"y":357,"s":"TN"},{"x":1048,"y":358,"s":"TN"},{"x":1053,"y":352,"s":"TN"},{"x":1141,"y":255,"s":"TN"},{"x":1150,"y":257,"s":"TN"},{"x":1164,"y":256,"s":"TN"},{"x":1175,"y":260,"s":"TN"},{"x":1181,"y":258,"s":"TN"},{"x":1185,"y":262,"s":"TN"},{"x":1143,"y":265,"s":"TN"},{"x":1160,"y":267,"s":"TN"},{"x":1180,"y":268,"s":"TN"},{"x":1142,"y":288,"s":"TN"},{"x":1153,"y":278,"s":"TN"},{"x":1167,"y":283,"s":"TN"},{"x":1178,"y":283,"s":"TN"},{"x":1170,"y":290,"s":"TN"},{"x":1140,"y":292,"s":"TN"},{"x":1150,"y":297,"s":"TN"},{"x":1167,"y":307,"s":"TN"},{"x":1168,"y":312,"s":"TN"},{"x":1148,"y":305,"s":"TN"},{"x":1160,"y":300,"s":"TN"},{"x":1137,"y":300,"s":"TN"},{"x":1157,"y":293,"s":"TN"},{"x":1155,"y":265,"s":"TN"},{"x":1170,"y":270,"s":"TN"},{"x":1150,"y":285,"s":"TN"},{"x":1160,"y":280,"s":"TN"},{"x":1165,"y":295,"s":"TN"},{"x":1155,"y":305,"s":"TN"},{"x":1175,"y":275,"s":"TN"},
{"x":582,"y":1005,"s":"TN"},{"x":591,"y":997,"s":"TN"},{"x":580,"y":1014,"s":"TN"},{"x":644,"y":1107,"s":"TN"},
{"x":960,"y":650,"s":"TN"},{"x":975,"y":655,"s":"TN"},{"x":990,"y":655,"s":"TN"},{"x":975,"y":640,"s":"TN"},{"x":1000,"y":655,"s":"TN"},{"x":960,"y":665,"s":"TN"},{"x":978,"y":670,"s":"TN"},{"x":995,"y":672,"s":"TN"},
{"x":1085,"y":685,"s":"TN"},{"x":1100,"y":705,"s":"TN"},{"x":1115,"y":705,"s":"TN"},{"x":1100,"y":680,"s":"TN"},{"x":1090,"y":715,"s":"TN"},{"x":1110,"y":690,"s":"TN"},{"x":1095,"y":745,"s":"TN"},{"x":1120,"y":735,"s":"TN"},{"x":1125,"y":725,"s":"TN"},{"x":1135,"y":725,"s":"TN"},{"x":1120,"y":755,"s":"TN"},{"x":1135,"y":760,"s":"TN"},{"x":1150,"y":745,"s":"TN"},{"x":1155,"y":750,"s":"TN"},{"x":1127,"y":720,"s":"TN"},{"x":1080,"y":725,"s":"TN"},{"x":1065,"y":725,"s":"TN"},
{"x":1130,"y":650,"s":"TN"},{"x":1120,"y":655,"s":"TN"},{"x":1145,"y":640,"s":"TN"},{"x":1165,"y":655,"s":"TN"},{"x":1150,"y":660,"s":"TN"},{"x":1130,"y":665,"s":"TN"},{"x":1115,"y":670,"s":"TN"},{"x":1170,"y":660,"s":"TN"},{"x":1125,"y":640,"s":"TN"},{"x":1105,"y":645,"s":"TN"},
{"x":1175,"y":765,"s":"TN"},{"x":1190,"y":775,"s":"TN"},{"x":1190,"y":785,"s":"TN"},{"x":1205,"y":785,"s":"TN"},{"x":1220,"y":795,"s":"TN"},{"x":925,"y":575,"s":"TN"},{"x":950,"y":550,"s":"TN"},{"x":960,"y":550,"s":"TN"},{"x":955,"y":580,"s":"TN"},
{"x":1043,"y":690,"s":"TA"},{"x":1029,"y":717,"s":"TA"},{"x":1053,"y":723,"s":"TA"},{"x":1150,"y":712,"s":"TA"},{"x":1131,"y":770,"s":"TA"},{"x":1113,"y":775,"s":"TA"},
{"x":1327,"y":719,"s":"TA"},{"x":1336,"y":719,"s":"TA"},{"x":1345,"y":719,"s":"TA"},{"x":1320,"y":729,"s":"TA"},{"x":1322,"y":737,"s":"TA"},{"x":1330,"y":737,"s":"TA"},{"x":1347,"y":733,"s":"TA"}
]},
"mark":{"type":"point","filled":true,"opacity":1,"size":576},
"encoding":{
"x":{"field":"x","type":"quantitative","scale":{"domain":[20,1928],"nice":false,"zero":false},"axis":null},
"y":{"field":"y","type":"quantitative","scale":{"domain":[1439,25],"nice":false,"zero":false},"axis":null},
"color":{"field":"s","type":"nominal","scale":{"domain":["SN","SA","TN","TA"],"range":["#0000ff","#ee3524","#0000ff","#ee3524"]},
"legend":{"title":null,"orient":"none","legendX":1452,"legendY":17,"fillColor":"white","strokeColor":"#d5d5d5","cornerRadius":6,"padding":15,"labelFont":"DejaVu Sans","labelFontSize":34,"labelColor":"black","labelLimit":500,"labelOffset":45,"symbolSize":576,"symbolOpacity":1,"symbolOffset":17,"rowPadding":18,"labelExpr":"{'SN':'source normal','SA':'source anomalous','TN':'target normal','TA':'target anomalous'}[datum.label]"}},
"shape":{"field":"s","type":"nominal","scale":{"domain":["SN","SA","TN","TA"],"range":["M-0.88,-1L0.88,-1Q1,-1 1,-0.88L1,0.88Q1,1 0.88,1L-0.88,1Q-1,1 -1,0.88L-1,-0.88Q-1,-1 -0.88,-1Z","M-0.88,-1L0.88,-1Q1,-1 1,-0.88L1,0.88Q1,1 0.88,1L-0.88,1Q-1,1 -1,0.88L-1,-0.88Q-1,-1 -0.88,-1Z","M-0.08,-0.97Q0,-1.07 0.08,-0.97L1.02,0.87Q1.07,1.02 0.94,1.02L-0.94,1.02Q-1.07,1.02 -1.02,0.87Z","M-0.08,-0.97Q0,-1.07 0.08,-0.97L1.02,0.87Q1.07,1.02 0.94,1.02L-0.94,1.02Q-1.07,1.02 -1.02,0.87Z"]}}
}}
